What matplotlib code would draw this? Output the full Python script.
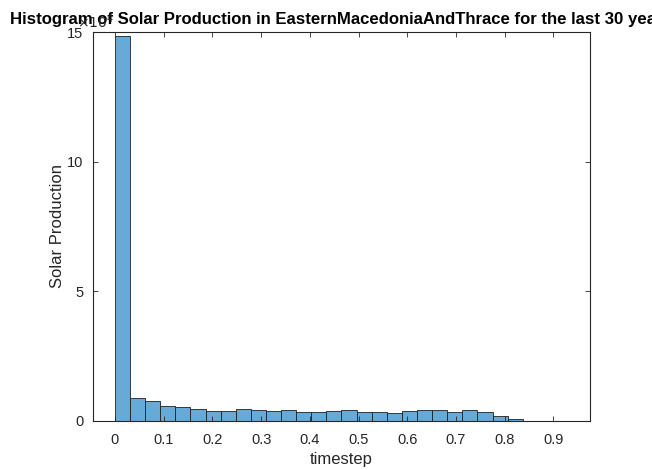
import matplotlib
matplotlib.use("Agg")
import matplotlib.pyplot as plt
import numpy as np

plt.rcParams['font.family'] = ['Liberation Sans', 'DejaVu Sans']

# Histogram bins (timestep) and counts in units of 1e4
bin_width = 0.031
counts = [14.85, 0.875, 0.76, 0.566, 0.528, 0.45, 0.40, 0.40, 0.45, 0.41,
          0.373, 0.41, 0.335, 0.335, 0.373, 0.41, 0.36, 0.36, 0.32, 0.373,
          0.41, 0.41, 0.36, 0.41, 0.335, 0.206, 0.064]
x_ticks = [0, 0.1, 0.2, 0.3, 0.4, 0.5, 0.6, 0.7, 0.8, 0.9]
x_tick_labels = ['0', '0.1', '0.2', '0.3', '0.4', '0.5', '0.6', '0.7', '0.8', '0.9']
y_ticks = [0, 5, 10, 15]
y_tick_labels = ['0', '5', '10', '15']

title = 'Histogram of Solar Production in EasternMacedoniaAndThrace for the last 30 years'
xlabel = 'timestep'
ylabel = 'Solar Production'

edges = np.arange(len(counts)) * bin_width

axis_gray = (0.15, 0.15, 0.15)
face = (0.4, 0.668, 0.845)

fig = plt.figure(figsize=(6.52, 4.70), dpi=100)
ax = fig.add_axes([0.1426, 0.1043, 0.7623, 0.8276])

ax.bar(edges, counts, width=bin_width, align='edge', color=face,
       edgecolor=(0.12, 0.12, 0.12), linewidth=0.6)

ax.set_xlim(-0.045, 0.975)
ax.set_ylim(0, 15)
ax.set_xticks(x_ticks)
ax.set_xticklabels(x_tick_labels)
ax.set_yticks(y_ticks)
ax.set_yticklabels(y_tick_labels)

for s in ax.spines.values():
    s.set_color(axis_gray)
    s.set_linewidth(0.8)
ax.tick_params(direction='in', length=3.5, width=0.6, colors=axis_gray,
               labelsize=10.5, top=True, right=True)
ax.tick_params(axis='x', pad=9)
ax.tick_params(axis='y', pad=7)
for lbl in ax.get_xticklabels() + ax.get_yticklabels():
    lbl.set_color(axis_gray)

ax.set_xlabel(xlabel, fontsize=12, color=axis_gray, labelpad=3)
ax.set_ylabel(ylabel, fontsize=12, color=axis_gray, labelpad=1.5)

# exponent marker for the y axis
fig.text(77 / 652, 1 - 28 / 470, r'$\times10^{4}$', fontsize=10,
         color=axis_gray, ha='left', va='baseline')

ax.set_title(title, fontsize=12.1, fontweight='bold', color='black', pad=6)

fig.savefig('out.png', dpi=100)
